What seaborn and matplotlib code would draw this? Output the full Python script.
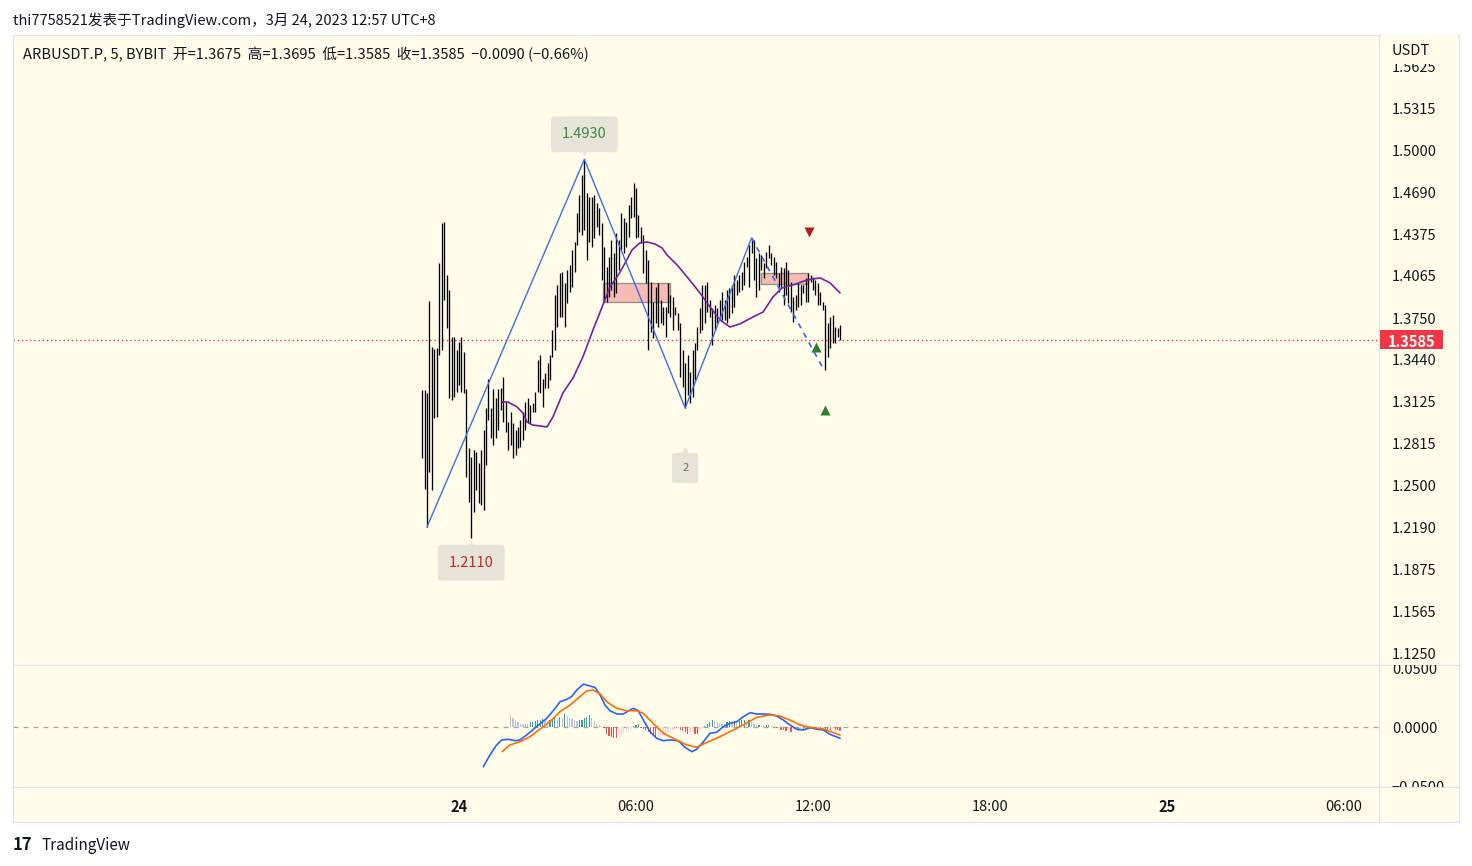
import numpy as np
import pandas as pd
import matplotlib
matplotlib.use("Agg")
import matplotlib.pyplot as plt
from matplotlib.patches import Rectangle
from matplotlib.transforms import offset_copy
import seaborn as sns

# ------------------------------------------------------------------ data
header = "thi7758521发表于TradingView.com，3月 24, 2023 12:57 UTC+8"
legend_text = "ARBUSDT.P, 5, BYBIT  开=1.3675  高=1.3695  低=1.3585  收=1.3585  −0.0090 (−0.66%)"
first_bar = -15          # first bar, in 5-minute steps from 00:00 on the 24th
last_close = 1.3585

highs = [
    1.3211, 1.3211, 1.3189, 1.3874, 1.3531, 1.3516, 1.3524, 1.4158, 1.4456, 1.4463,
    1.4068, 1.3956, 1.3606, 1.3606, 1.3509, 1.3568, 1.3606, 1.3494, 1.3218, 1.2778,
    1.2711, 1.2764, 1.2749, 1.2667, 1.2764, 1.2912, 1.3076, 1.3293, 1.3076, 1.3218,
    1.3151, 1.3218, 1.3226, 1.3308, 1.3121, 1.2972, 1.3047, 1.2965, 1.2912, 1.2935,
    1.2987, 1.3047, 1.3121, 1.3151, 1.3099, 1.3114, 1.3196, 1.3434, 1.3472, 1.3293,
    1.3338, 1.3412, 1.3472, 1.3658,
    1.3919, 1.3994, 1.4083, 1.4090, 1.4009, 1.4105, 1.4143, 1.4255, 1.4314, 1.4530,
    1.4665, 1.4814, 1.4930, 1.4680, 1.4650,
    1.4650, 1.4665, 1.4605, 1.4568, 1.4456, 1.4277, 1.4128, 1.4202, 1.4329, 1.4232,
    1.4381, 1.4329, 1.4530, 1.4493, 1.4463, 1.4590, 1.4650, 1.4754, 1.4717, 1.4515,
    1.4426, 1.4366, 1.4255, 1.4180, 1.4016, 1.3867, 1.3979, 1.4009, 1.3882, 1.3830,
    1.3830, 1.4009, 1.3919, 1.3904,
    1.3830, 1.3785, 1.3710, 1.3509, 1.3412, 1.3472, 1.3345, 1.3509, 1.3561, 1.3680,
    1.3822, 1.3994, 1.3994, 1.4016, 1.3882, 1.3822, 1.3844, 1.3822, 1.3882, 1.3941,
    1.3882, 1.3956, 1.3971, 1.3994, 1.4068, 1.4031, 1.4068, 1.4090, 1.4165, 1.4202,
    1.4292, 1.4344, 1.4329, 1.4195, 1.4232, 1.4217,
    1.4158, 1.4240, 1.4292, 1.4232, 1.4202, 1.4165, 1.4083, 1.4128, 1.4120, 1.4165,
    1.4105, 1.4016, 1.3904, 1.3919, 1.4009, 1.3994, 1.3994, 1.4046, 1.4083, 1.4068,
    1.4053, 1.4031, 1.4009, 1.3941, 1.3867, 1.3844, 1.3710, 1.3755, 1.3770, 1.3680,
    1.3673, 1.3695,
]
lows = [
    1.2704, 1.2473, 1.2190, 1.2600, 1.2465, 1.3002, 1.3009, 1.3472, 1.3509, 1.3882,
    1.3673, 1.3151, 1.3136, 1.3159, 1.3196, 1.3248, 1.3196, 1.3189, 1.2562, 1.2376,
    1.2110, 1.2301, 1.2465, 1.2369, 1.2354, 1.2316, 1.2652, 1.2987, 1.2853, 1.2801,
    1.2853, 1.2912, 1.3062, 1.2972, 1.2898, 1.2764, 1.2801, 1.2704, 1.2726, 1.2778,
    1.2786, 1.2838, 1.2912, 1.2965, 1.2965, 1.3047, 1.3047, 1.3196, 1.3189, 1.3084,
    1.3226, 1.3226, 1.3286, 1.3457,
    1.3509, 1.3680, 1.3755, 1.3755, 1.3680, 1.3859, 1.3941, 1.3979, 1.4090, 1.4292,
    1.4389, 1.4366, 1.4404, 1.4180, 1.4314,
    1.4277, 1.4344, 1.4426, 1.4366, 1.4031, 1.3867, 1.3867, 1.3904, 1.3956, 1.3904,
    1.3934, 1.4105, 1.4255, 1.4232, 1.4277, 1.4351, 1.4493, 1.4500, 1.4344, 1.4351,
    1.4307, 1.4083, 1.4009, 1.3509, 1.3643, 1.3598, 1.3710, 1.3680, 1.3710, 1.3695,
    1.3606, 1.3785, 1.3755, 1.3658,
    1.3770, 1.3658, 1.3308, 1.3233, 1.3076, 1.3174, 1.3114, 1.3159, 1.3286, 1.3509,
    1.3636, 1.3658, 1.3710, 1.3792, 1.3755, 1.3546, 1.3658, 1.3710, 1.3732, 1.3732,
    1.3732, 1.3710, 1.3747, 1.3785, 1.3830, 1.3919, 1.3941, 1.3956, 1.3994, 1.4128,
    1.3979, 1.4232, 1.4031, 1.3904, 1.3956, 1.4105,
    1.4046, 1.4120, 1.4195, 1.4143, 1.4068, 1.4046, 1.3941, 1.3979, 1.3844, 1.3919,
    1.3859, 1.3792, 1.3718, 1.3807, 1.3830, 1.3844, 1.3934, 1.3867, 1.3867, 1.4016,
    1.3956, 1.3919, 1.3844, 1.3844, 1.3807, 1.3360, 1.3457, 1.3524, 1.3561, 1.3561,
    1.3606, 1.3585,
]

# moving average (purple)
ma_t = [17.5, 19.9, 23.6, 26.0, 27.7, 29.7, 35.8, 38.2, 42.3, 46.4, 50.4, 54.5, 57.4,
        61.4, 64.3, 66.7, 70.4, 73.6, 76.5, 79.7, 82.6, 84.6, 88.7, 92.8, 98.0, 102.1,
        106.2, 110.2, 114.3, 119.6, 123.7, 127.7, 131.4, 135.9, 141.6, 146.9, 150.9, 155.0]
ma_p = [1.3121, 1.3121, 1.3084, 1.3039, 1.2972, 1.2950, 1.2935, 1.3009, 1.3189, 1.3300,
        1.3457, 1.3658, 1.3792, 1.3979, 1.4053, 1.4128, 1.4255, 1.4307, 1.4314, 1.4299,
        1.4269, 1.4217, 1.4143, 1.4053, 1.3934, 1.3830, 1.3732, 1.3680, 1.3703, 1.3755,
        1.3792, 1.3904, 1.3971, 1.3994, 1.4031, 1.4046, 1.4009, 1.3934]

# zigzag pivots (bar indices) and projected dashed leg
zz_idx = [2, 66, 107, 134]
zz_kind = ["low", "high", "low", "high"]
zz_proj_t = 148.0
zz_proj_p = 1.3375

# order-block zones
zone_t0 = [58.6, 122.8]
zone_t1 = [85.8, 142.0]
zone_top = [1.4009, 1.4083]
zone_bot = [1.3867, 1.4001]

# signal triangles
sig_t = [142.4, 145.2, 148.9]
sig_p = [1.4388, 1.3531, 1.3062]
sig_dir = ["down", "up", "up"]

# price-scale ticks
price_ticks = [1.5625, 1.5315, 1.5000, 1.4690, 1.4375, 1.4065, 1.3750, 1.3440,
               1.3125, 1.2815, 1.2500, 1.2190, 1.1875, 1.1565, 1.1250]
macd_ticks = [0.05, 0.0, -0.05]
macd_tick_labels = ["0.0500", "0.0000", "−0.0500"]
time_ticks = [0, 72, 144, 216, 288, 360]
time_labels = ["24", "06:00", "12:00", "18:00", "25", "06:00"]
time_bold = [True, False, False, False, True, False]

# MACD line / signal line
macd_t = [9.9, 12.6, 15.3, 17.4, 20.1, 22.8, 24.8, 27.5, 31.6, 35.7, 39.1, 41.1, 43.8,
          45.8, 47.9, 50.6, 53.3, 55.3, 57.4, 59.4, 61.4, 64.2, 66.8, 69.6, 70.9, 72.9,
          75.0, 77.7, 80.4, 83.1, 85.8, 89.2, 91.9, 94.7, 96.7, 99.4, 102.1, 104.8,
          107.5, 110.2, 113.0, 115.6, 118.4, 121.1, 123.8, 126.5, 129.2, 131.9, 134.6,
          137.4, 140.1, 142.8, 145.5, 148.2, 150.9, 155.0]
macd_v = [-0.0336, -0.0237, -0.0152, -0.0110, -0.0104, -0.0116, -0.0110, -0.0068,
          0.0003, 0.0074, 0.0158, 0.0214, 0.0235, 0.0257, 0.0313, 0.0364, 0.0347,
          0.0336, 0.0271, 0.0186, 0.0138, 0.0110, 0.0110, 0.0144, 0.0158, 0.0138,
          0.0059, -0.0040, -0.0096, -0.0116, -0.0110, -0.0116, -0.0172, -0.0209,
          -0.0189, -0.0125, -0.0053, -0.0045, 0.0003, 0.0031, 0.0045, 0.0087, 0.0121,
          0.0110, 0.0110, 0.0108, 0.0093, 0.0059, 0.0017, -0.0019, -0.0025, -0.0006,
          -0.0019, -0.0025, -0.0062, -0.0096]
sig_line_t = [17.6, 20.7, 24.8, 28.9, 32.9, 37.0, 41.1, 45.2, 49.2, 51.9, 54.6, 57.4,
              60.1, 64.2, 68.2, 72.3, 75.0, 79.0, 83.1, 87.2, 92.6, 96.7, 99.4, 104.8,
              110.2, 115.6, 121.1, 126.5, 130.5, 134.6, 138.7, 142.8, 148.2, 155.0]
sig_line_v = [-0.0209, -0.0152, -0.0125, -0.0082, -0.0019, 0.0045, 0.0130, 0.0186,
              0.0257, 0.0305, 0.0313, 0.0280, 0.0214, 0.0158, 0.0138, 0.0138, 0.0116,
              0.0031, -0.0053, -0.0096, -0.0152, -0.0172, -0.0144, -0.0096, -0.0040,
              0.0017, 0.0082, 0.0102, 0.0093, 0.0059, 0.0017, -0.0003, -0.0017, -0.0068]

# histogram (value in 0.001 units) and colour state
hist_start = 21
hist_v = [10.4, 7.9, 6.2, 4.2, 2.8, 2.3, 2.3, 2.8, 3.9, 4.5, 5.1, 5.6, 6.2, 7.1, 6.2,
          5.1, 6.2, 7.1, 7.6, 7.1, 8.5, 7.9, 10.7, 9.3, 7.9, 7.1, 5.6, 5.1, 5.6, 6.2,
          7.9, 8.5, 9.9, 7.9, 5.1, 2.8, 1.4, 0.6, -0.6, -5.6, -7.9, -8.5, -9.0, -9.3,
          -8.5, -7.1, -5.1, -4.2, -2.8, -1.4, 0.6, 1.4, 2.3, -0.6, -1.4, -2.8, -4.2,
          -5.6, -7.9, -9.0, -8.5, -7.9, -7.1, -5.6, -4.2, -3.4, -2.8, -2.3, -1.7, -2.8,
          -3.4, -4.2, -5.6, -5.1, -4.2, -5.6, -6.2, -2.8, -1.4, 0.6, 2.3, 4.2, 5.6, 5.1,
          4.2, 3.4, 2.8, 2.8, 4.2, 5.1, 4.2, 5.1, 4.2, 5.1, 5.6, 6.2, 5.1, 5.6, 4.2, 2.8,
          1.4, 1.7, 0.8, 0.6, 1.4, 2.0, 0.6, -0.6, -1.1, -0.8, -2.3, -2.8, -3.4, -2.8,
          -4.2, -3.4, -2.8, -3.4, -2.3, -2.8, -1.4, -0.8, -0.6, -0.8, -1.1, -0.6, -1.4,
          -0.8, -1.7, -2.3, -2.8, -1.7, -2.3, -2.8, -3.4]
hist_state = list(
    "LLLLLLLLTTTTTTLLTTTLTLTLLLLLTTTTTLLLLLRRRRRRPPPPPPTTTRRRRRRRPPPPPPPPPRRRRPPRRPP"
    "TTTTLLLLLTTLTLTTTLTLLLTLLTTLRRPRRRPRPPRPRPPPRRPRPRRRPRRR")

# ------------------------------------------------------------------ style
sns.set_theme(style="white")
plt.rcParams["font.family"] = ["Noto Sans CJK SC", "DejaVu Sans"]
plt.rcParams["axes.unicode_minus"] = False

W, H = 1472, 866
CREAM = "#fffde9"
BORDER = "#e0e3eb"
TXT = "#131722"
fig = plt.figure(figsize=(W / 100, H / 100), dpi=100)
fig.patch.set_facecolor("white")


def box(x0, y0, x1, y1):
    return [x0 / W, 1 - y1 / H, (x1 - x0) / W, (y1 - y0) / H]


ax = fig.add_axes(box(13, 35, 1379, 665))
axm = fig.add_axes(box(13, 665, 1379, 787))
axt = fig.add_axes(box(13, 787, 1379, 822))
axs = fig.add_axes(box(1379, 35, 1459, 665))
axms = fig.add_axes(box(1379, 665, 1459, 787))
axts = fig.add_axes(box(1379, 787, 1459, 822))

XL = (-181.4, 374.2)
YL = (1.1160, 1.5857)
ML = (-0.05085, 0.05254)
for a in (ax, axm, axt, axs, axms, axts):
    a.set_facecolor(CREAM)
    a.set_xticks([])
    a.set_yticks([])
    for sp in a.spines.values():
        sp.set_color(BORDER)
        sp.set_linewidth(0.8)
for a in (ax, axm, axt):
    a.set_xlim(*XL)
ax.set_ylim(*YL)
axs.set_ylim(*YL)
axm.set_ylim(*ML)
axms.set_ylim(*ML)
axs.set_xlim(0, 1)
axms.set_xlim(0, 1)
axt.set_ylim(0, 1)

# ------------------------------------------------------------------ price bars
n = len(highs)
assert n == len(lows)
t_bars = np.arange(n) + first_bar
ax.vlines(t_bars, lows, highs, color="black", lw=0.95, zorder=3)

# zones
for t0, t1, top, bot in zip(zone_t0, zone_t1, zone_top, zone_bot):
    ax.add_patch(Rectangle((t0, bot), t1 - t0, top - bot, facecolor="#f8b4ad",
                           edgecolor="#8a8a8a", lw=1.0, alpha=0.9, zorder=2))

# moving average
sns.lineplot(x=ma_t, y=ma_p, ax=ax, color="#7b1fa2", lw=1.2, zorder=4, sort=False)

# zigzag
zz_t = [t_bars[i] for i in zz_idx]
zz_p = [lows[i] if k == "low" else highs[i] for i, k in zip(zz_idx, zz_kind)]
sns.lineplot(x=zz_t, y=zz_p, ax=ax, color="#3d6ee8", lw=1.0, zorder=4, sort=False)
sns.lineplot(x=[zz_t[-1], zz_proj_t], y=[zz_p[-1], zz_proj_p], ax=ax, color="#3d6ee8",
             lw=1.3, ls=(0, (3, 3)), zorder=4, sort=False)

# last price line
ax.axhline(last_close, color="#f23645", lw=1.0, ls=(0, (1, 2)), zorder=1)

# pivot labels
BOXC = "#e6e4d8"
imax = int(np.argmax(highs))
imin = int(np.argmin(lows))
labs = [(t_bars[imax], highs[imax], f"{highs[imax]:.4f}", "#388e3c", 25, "v", 9, 10.5, 0.75),
        (t_bars[imin], lows[imin], f"{lows[imin]:.4f}", "#c62828", -25, "^", -8, 10.5, 0.75),
        (t_bars[zz_idx[2]], lows[zz_idx[2]], "2", "#6b6b6b", -60, "^", -44, 8, 0.9)]
for tt, pp, s, col, dy, mk, mdy, fs, pad in labs:
    tr = offset_copy(ax.transData, fig=fig, x=0, y=dy, units="dots")
    ax.text(tt, pp, s, transform=tr, ha="center", va="center", color=col, fontsize=fs,
            zorder=6, bbox=dict(boxstyle=f"round,pad={pad},rounding_size=0.2",
                                fc=BOXC, ec="none"))
    trm = offset_copy(ax.transData, fig=fig, x=0, y=mdy, units="dots")
    ax.plot([tt], [pp], marker=mk, color=BOXC, ms=9, mec="none", transform=trm, zorder=5)

# signal triangles
for tt, pp, d in zip(sig_t, sig_p, sig_dir):
    ax.plot([tt], [pp], marker="v" if d == "down" else "^", ms=7, mec="none",
            color="#b71c1c" if d == "down" else "#2e7d32", zorder=6, linestyle="none")

# ------------------------------------------------------------------ MACD
axm.axhline(0, color="#a0a4ad", lw=0.9, ls=(0, (4, 4)), zorder=1)
cmap = {"T": "#26a69a", "L": "#b9c3d8", "R": "#ef5350", "P": "#ffcdd2"}
ht = np.arange(len(hist_v)) + hist_start
hv = np.array(hist_v) / 1000.0
axm.bar(ht, hv, width=0.5, color=[cmap[c] for c in hist_state[:len(hist_v)]],
        edgecolor="none", linewidth=0, zorder=2)
sns.lineplot(x=macd_t, y=macd_v, ax=axm, color="#2962ff", lw=1.2, zorder=3, sort=False)
sns.lineplot(x=sig_line_t, y=sig_line_v, ax=axm, color="#ff6d00", lw=1.2, zorder=4,
             sort=False)
for a in (ax, axm):
    a.set_xlabel("")
    a.set_ylabel("")

# ------------------------------------------------------------------ scales
FS = 10.5
lab_tr = offset_copy(axs.transData, fig=fig, x=0, y=-2, units="dots")
for v in price_ticks:
    axs.text(0.1625, v, f"{v:.4f}", ha="left", va="center", fontsize=FS, color=TXT,
             clip_on=True, transform=lab_tr)
axs.add_patch(Rectangle((0.02, 1.5642), 0.96, 0.03, facecolor=CREAM, edgecolor="none",
                        zorder=3))
axs.text(0.1625, 1.5750, "USDT", ha="left", va="center", fontsize=FS, color=TXT,
         zorder=4, transform=lab_tr)
axs.add_patch(Rectangle((0.0125, last_close - 0.0071), 0.79, 0.0142, facecolor="#f23645",
                        edgecolor="none", zorder=5))
axs.text(0.406, last_close, f"{last_close:.4f}", ha="center", va="center", fontsize=FS,
         color="white", fontweight="bold", zorder=6, transform=lab_tr)
mlab_tr = offset_copy(axms.transData, fig=fig, x=0, y=-2, units="dots")
for v, s in zip(macd_ticks, macd_tick_labels):
    axms.text(0.1625, v, s, ha="left", va="center", fontsize=FS, color=TXT, clip_on=True,
              transform=mlab_tr)

for tt, s, b in zip(time_ticks, time_labels, time_bold):
    axt.text(tt, 0.44, s, ha="center", va="center", fontsize=FS, color=TXT,
             fontweight="bold" if b else "normal")

# ------------------------------------------------------------------ header / footer
fig.text(13 / W, 1 - 20 / H, header, ha="left", va="center", fontsize=10.5, color=TXT)
fig.text(23 / W, 1 - 54 / H, legend_text, ha="left", va="center", fontsize=10.6,
         color=TXT)
fig.text(13 / W, 1 - 845 / H, "17", ha="left", va="center", fontsize=12, color=TXT,
         fontweight="bold")
fig.text(42 / W, 1 - 845 / H, "TradingView", ha="left", va="center", fontsize=11,
         color=TXT)

fig.savefig("out.png", dpi=100, facecolor="white")
